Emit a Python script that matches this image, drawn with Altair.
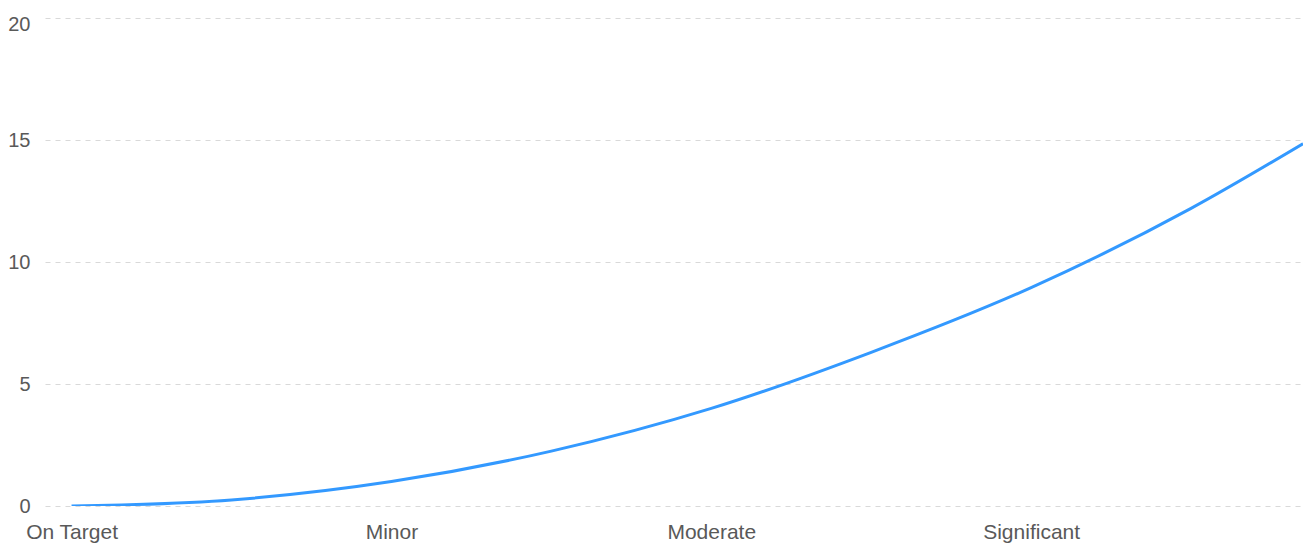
import altair as alt
import pandas as pd

# Values
x_pos = [0, 0.5, 1, 1.5, 2, 2.5, 3, 3.5, 3.85]
y_val = [0, 0.25, 1.0, 2.25, 4.0, 6.3, 8.95, 12.2, 14.85]
categories = ["On Target", "Minor", "Moderate", "Significant", "Severe"]
y_ticks = [0, 5, 10, 15, 20]

df = pd.DataFrame({"x": x_pos, "y": y_val})

label_expr = "[" + ",".join(f"'{c}'" for c in categories) + "][datum.value]"

font = "Liberation Sans"
label_color = "#595959"

chart = alt.Chart(df).mark_line(
    color="#3399ff", strokeWidth=3, interpolate="monotone", clip=True
).encode(
    x=alt.X(
        "x:Q",
        scale=alt.Scale(domain=[-0.083, 3.85], nice=False, zero=False),
        axis=alt.Axis(
            values=[0, 1, 2, 3],
            labelExpr=label_expr,
            title=None,
            grid=False,
            domain=False,
            ticks=False,
            labelFont=font,
            labelFontSize=21,
            labelColor=label_color,
            labelPadding=15,
            labelBaseline="top",
            labelFlush=False,
        ),
    ),
    y=alt.Y(
        "y:Q",
        scale=alt.Scale(domain=[0, 20], nice=False),
        axis=alt.Axis(
            values=y_ticks,
            title=None,
            grid=True,
            gridColor="#d9d9d9",
            gridDash=[5, 5],
            gridWidth=1,
            domain=False,
            ticks=False,
            labelFont=font,
            labelFontSize=20,
            labelColor=label_color,
            labelPadding=15,
            labelOffset={"condition": {"test": "datum.value == 20", "value": 6}, "value": 0},
        ),
    ),
).properties(
    width=1258,
    height=488,
    autosize=alt.AutoSizeParams(type="none"),
    padding={"left": 37, "top": 10, "right": 0, "bottom": 40},
).configure(
    background="white"
).configure_view(
    stroke="transparent", strokeWidth=0
)

chart.save("out.html", embed_options={"renderer": "svg", "actions": False})
